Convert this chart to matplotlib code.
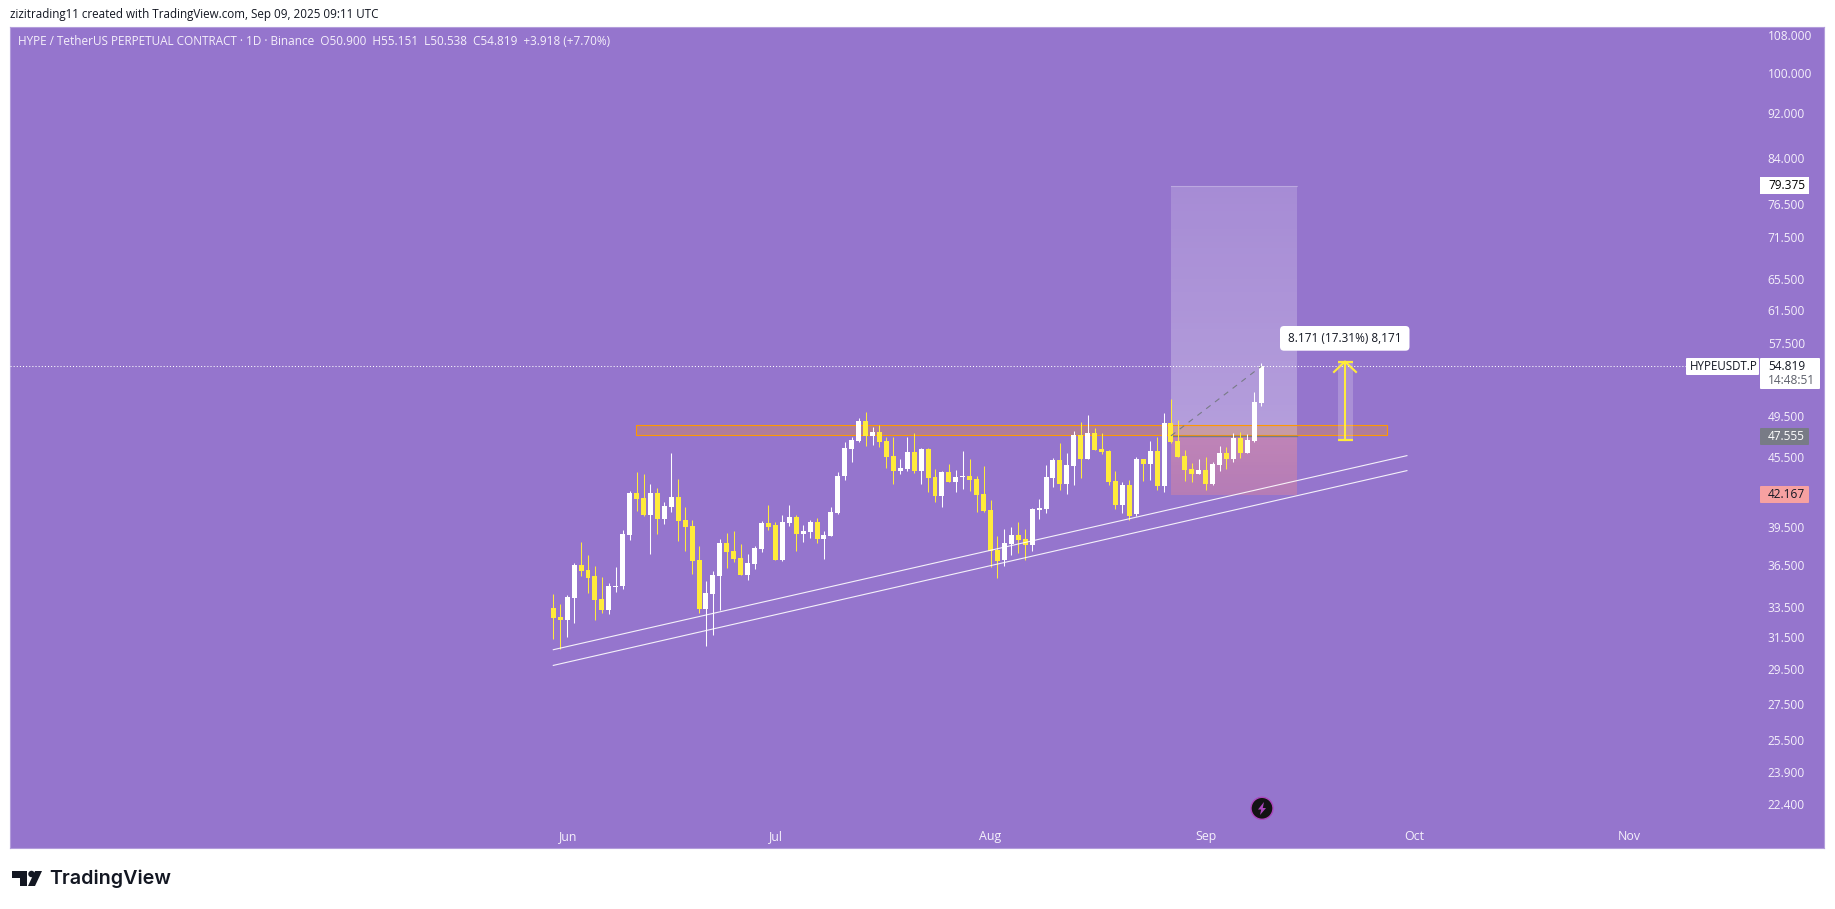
import numpy as np
import pandas as pd
import matplotlib
matplotlib.use("Agg")
import matplotlib.pyplot as plt
import matplotlib.dates as mdates
from matplotlib.colors import LinearSegmentedColormap
from matplotlib.patches import FancyBboxPatch, Polygon, Ellipse, Rectangle
from matplotlib.transforms import IdentityTransform

W, H = 1835, 909
plt.rcParams['font.family'] = ['Open Sans', 'DejaVu Sans']

# ---- data ----
start_date = "2025-05-30"
opens = [33.42,32.80,32.60,34.10,36.49,36.12,35.68,34.03,33.28,34.88,
         34.95,38.80,42.28,41.85,40.42,42.28,40.09,41.09,41.94,40.01,
         39.52,36.86,33.35,34.39,35.68,38.17,37.55,37.01,35.75,36.56,
         37.71,39.77,39.61,36.86,39.77,40.26,38.88,39.04,39.85,38.48,
         38.72,40.59,43.78,46.27,47.03,49.00,47.52,47.91,47.03,45.61,
         44.23,44.41,45.98,44.23,46.27,43.69,42.02,44.14,43.24,43.69,
         43.78,43.51,42.19,40.84,37.63,36.86,38.09,38.80,38.48,38.02,
         40.84,40.92,43.60,45.24,43.07,44.69,47.62,45.33,47.81,46.27,
         46.08,43.33,41.26,42.98,40.51,45.33,44.87,46.08,42.89,48.80,
         47.03,45.61,44.41,43.96,44.32,43.07,44.78,45.89,45.33,47.32,
         45.89,47.03,50.90]
highs = [34.39,33.69,34.31,36.64,38.25,37.24,36.42,35.60,35.17,36.34,
         39.20,42.45,44.14,43.96,43.07,42.72,41.51,45.89,43.51,41.09,
         40.01,37.94,35.31,36.05,38.48,38.96,39.12,38.09,37.32,37.94,
         39.93,41.26,39.85,40.42,41.26,40.42,39.61,40.01,40.18,39.12,
         41.09,44.14,46.94,47.42,49.30,49.91,48.40,48.60,47.42,47.42,
         45.33,47.42,47.81,46.36,46.36,44.41,44.23,44.87,44.32,46.08,
         45.33,43.78,44.69,41.68,38.72,39.28,39.44,39.85,39.28,41.01,
         41.77,44.78,45.43,46.84,45.89,48.00,48.90,49.60,48.30,47.81,
         46.17,44.23,43.24,43.42,45.52,45.33,47.03,47.42,49.81,51.25,
         49.10,46.17,44.96,45.33,45.52,45.06,46.55,46.46,47.81,47.91,
         47.71,51.99,55.151]
lows = [31.35,30.72,31.48,32.40,35.68,34.46,32.60,33.08,33.01,34.53,
        34.74,38.40,40.76,40.34,37.32,38.88,39.69,40.67,38.32,37.55,
        35.82,33.08,30.91,31.61,33.28,36.27,36.71,35.75,35.38,36.19,
        37.48,39.20,36.86,36.79,39.52,37.55,38.25,38.56,38.17,36.94,
        38.72,40.51,43.42,45.06,46.94,46.55,46.65,46.46,44.50,43.07,
        43.96,44.23,44.05,43.07,42.37,41.51,41.09,43.24,42.37,42.63,
        42.45,40.67,40.67,36.34,35.53,36.42,37.24,37.40,36.86,37.55,
        40.09,40.59,42.80,42.54,42.19,42.98,43.60,45.33,46.17,45.80,
        42.98,40.92,40.59,40.01,40.34,43.33,43.42,42.54,42.37,46.84,
        45.52,43.33,43.24,43.96,42.54,42.98,44.23,44.41,45.06,45.43,
        45.89,46.94,50.538]
closes = [32.74,32.60,34.17,36.49,36.05,35.53,33.96,33.28,34.95,34.95,
          38.88,42.28,41.77,40.42,42.28,40.09,41.18,41.94,39.93,39.44,
          36.79,33.35,34.46,35.75,38.17,37.48,36.94,35.75,36.64,37.78,
          39.77,39.44,36.86,39.85,40.26,38.88,39.12,39.85,38.48,38.80,
          40.67,43.78,46.36,47.13,49.00,47.52,47.91,46.94,45.52,44.23,
          44.50,45.98,44.23,46.27,43.60,42.02,44.14,43.24,43.69,43.78,
          43.42,42.11,40.76,37.55,36.79,38.17,38.80,38.40,38.02,40.92,
          41.01,43.69,45.24,43.07,44.78,47.62,45.33,47.81,46.17,45.98,
          43.24,41.26,42.98,40.34,45.33,44.87,46.08,42.89,48.80,46.94,
          45.52,44.32,43.96,44.32,43.07,44.87,45.89,45.33,47.32,45.89,
          47.13,50.94,54.819]

price_ticks = [108,100,92,84,76.5,71.5,65.5,61.5,57.5,49.5,45.5,39.5,36.5,33.5,31.5,29.5,27.5,25.5,23.9,22.4]
month_labels = ["Jun","Jul","Aug","Sep","Oct","Nov"]
month_dates = ["2025-06-01","2025-07-01","2025-08-01","2025-09-01","2025-10-01","2025-11-01"]

zone_low, zone_high = 47.65, 48.66
trend_dates = ["2025-05-30","2025-09-30"]
trend_upper = [30.70,45.67]
trend_lower = [29.73,44.29]
target_price, entry_price, stop_price = 79.375, 47.555, 42.167
last_price = 54.819
measure_low, measure_high = 47.20, 55.37

# ---- layout ----
fig = plt.figure(figsize=(W/100, H/100), dpi=100, facecolor="white")
L, R, T, B = 10, 1824, 27, 848
ax = fig.add_axes([L/W, 1-B/H, (R-L)/W, (B-T)/H], facecolor="#9575CD")
ID = IdentityTransform()
PX = 6.94
x0 = mdates.date2num(pd.Timestamp(start_date))
X0PX = 553.3
def d(px):
    return x0 + (px-X0PX)/PX

dates = mdates.date2num(pd.date_range(start_date, periods=len(opens), freq="D"))
ax.set_yscale("log")
ax.set_ylim(20.46, 109.8)
ax.set_xlim(d(L), d(R))
for s in ax.spines.values():
    s.set_color("#B39DDB"); s.set_linewidth(0.8)
ax.set_yticks([], minor=True)
ax.yaxis.tick_right()
ax.set_yticks(price_ticks, [f"{v:.3f}" for v in price_ticks])
ax.set_xticks(mdates.date2num(pd.to_datetime(month_dates)), month_labels)
LAB = "#F5F0FB"
ax.tick_params(axis="y", length=0, pad=-40.5, labelsize=8.6, labelcolor=LAB)
ax.tick_params(axis="x", length=0, pad=-13.2, labelsize=8.9, labelcolor=LAB)

# position tool gradients
xp = [d(1171), d(1297)]
yp = np.geomspace(entry_price, target_price, 41)
cm_up = LinearSegmentedColormap.from_list("u", [(1,1,1,0.30),(1,1,1,0.17)])
ax.pcolormesh(xp, yp, np.linspace(0,1,40)[:,None], cmap=cm_up, zorder=2)
ys = np.geomspace(stop_price, entry_price, 21)
cm_dn = LinearSegmentedColormap.from_list("d", [(0.96,0.55,0.55,0.34),(0.98,0.60,0.60,0.42)])
ax.pcolormesh(xp, ys, np.linspace(0,1,20)[:,None], cmap=cm_dn, zorder=2)
ax.plot(xp, [target_price]*2, color=(1,1,1,0.25), lw=0.8, zorder=2.1)
ax.plot(xp, [entry_price]*2, color="#787B86", lw=1.0, zorder=3.5)

# resistance zone
ax.add_patch(Rectangle((d(636.3), zone_low), d(1387)-d(636.3), zone_high-zone_low,
                       facecolor=(1,0.58,0.05,0.26), edgecolor="#FF9800", lw=0.8, zorder=3))

# candles
o, h, l, c = map(np.array, (opens, highs, lows, closes))
up = c >= o
cols = np.where(up, "#FFFFFF", "#FFEB3B")
ax.vlines(dates, l, h, colors=cols, lw=0.75, zorder=5)
ax.bar(dates, np.maximum(np.abs(c-o), 0.05), bottom=np.minimum(o, c), width=0.72, color=cols, lw=0, zorder=5.1)

# trend lines
td = mdates.date2num(pd.to_datetime(trend_dates))
ax.plot(td, trend_upper, color="white", lw=0.8, alpha=0.9, zorder=6)
ax.plot(td, trend_lower, color="white", lw=0.8, alpha=0.9, zorder=6)

# dashed entry to price
ax.plot([dates[89], dates[102]], [entry_price, last_price], color="#787B86", lw=0.8,
        ls=(0, (5, 5)), zorder=6)

# current price dotted
ax.plot([d(L), d(1686)], [last_price]*2, color="white", lw=0.75, ls=(0, (1, 2)), zorder=4)

# measure arrow
xa = d(1345)
ax.add_patch(Rectangle((d(1338), measure_low), d(1352.7)-d(1338), measure_high-measure_low,
                       facecolor=(1,1,1,0.2), lw=0, zorder=3.5))
yc = "#FFEB3B"
ax.plot([xa, xa], [measure_low, measure_high], color=yc, lw=1.5, zorder=7)
for yy in (measure_low, measure_high):
    ax.plot([d(1337.5), d(1352.5)], [yy, yy], color=yc, lw=1.6, zorder=7, solid_capstyle="butt")
ax.plot([d(1334), xa, d(1356)], [54.2, measure_high, 54.2], color=yc, lw=1.5, zorder=7)

def box(x0_, y0_, x1_, y1_, color, r=2, z=20, **kw):
    p = FancyBboxPatch((x0_, H-y1_), x1_-x0_, y1_-y0_, boxstyle=f"round,pad=0,rounding_size={r}",
                       facecolor=color, edgecolor="none", transform=ID, clip_on=False, zorder=z, **kw)
    ax.add_patch(p)

def label(x, y, s, color, size=8.6, ha="left", **kw):
    ax.text(x/W, 1-y/H, s, color=color, fontsize=size, ha=ha, va="center",
            transform=fig.transFigure, clip_on=False, zorder=21, **kw)

# measure label
box(1280, 326, 1409.5, 350.7, "white", r=4)
label(1344.7, 338.5, "8.171 (17.31%) 8,171", "#131722", size=8.5, ha="center")

# price tags
box(1760, 177, 1809, 194, "white", r=0)
label(1768, 185.5, f"{target_price:.3f}", "black")
box(1686, 358, 1759, 375, "white", r=1)
label(1690, 366.5, "HYPEUSDT.P", "#131722", size=8.3)
box(1760, 358, 1820, 389, "white", r=1)
label(1768, 366.5, f"{last_price:.3f}", "#131722")
label(1768, 380, "14:48:51", "#5d606b")
box(1760, 428, 1809, 445, "#787B86", r=1)
label(1768, 436.7, f"{entry_price:.3f}", "white")
box(1760, 486, 1809, 503, "#F7A1A1", r=1)
label(1768, 494.7, f"{stop_price:.3f}", "#131722")

# header
label(10, 14.5, "zizitrading11 created with TradingView.com, Sep 09, 2025 09:11 UTC", "#131722", size=8.42)
label(18, 41.5, "HYPE / TetherUS PERPETUAL CONTRACT · 1D · Binance  O50.900  H55.151  L50.538  C54.819  +3.918 (+7.70%)",
      LAB, size=8.46)

# icon
ax.add_patch(Ellipse((1262, H-808.3), 22, 22, facecolor="#131313", edgecolor="#AB47BC", lw=1.0,
                     transform=ID, clip_on=False, zorder=20))
ax.add_patch(Polygon([(1260,H-815),(1266,H-808),(1262.8,H-808),(1264,H-802),(1258,H-809.5),(1261.2,H-809.5)],
                     closed=True, facecolor="#AB47BC", edgecolor="none", transform=ID, clip_on=False, zorder=21))

# logo
k = "#131722"
for poly in ([(12,871),(27,871),(27,886),(20,886),(20,878),(12,878)],
             [(35,871),(42,871),(35,886),(28,886)]):
    ax.add_patch(Polygon([(a, H-b) for a, b in poly], closed=True, facecolor=k, edgecolor="none",
                         transform=ID, clip_on=False, zorder=21))
ax.add_patch(Ellipse((31.5, H-874), 6.5, 6.5, facecolor=k, edgecolor="none", transform=ID, clip_on=False, zorder=21))
ax.text(49/W, 1-879/H, "TradingView", color=k, fontsize=14.2, fontweight="semibold", family=["Inter", "DejaVu Sans"],
        ha="left", va="center", transform=fig.transFigure, clip_on=False, zorder=21)

fig.savefig("out.png", dpi=100, facecolor="white")
